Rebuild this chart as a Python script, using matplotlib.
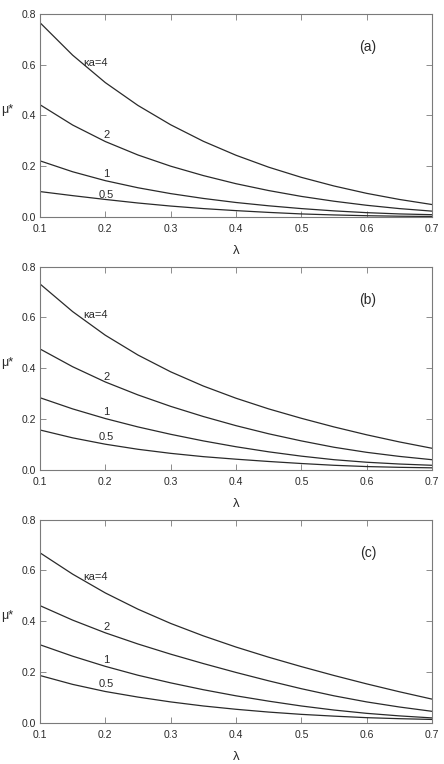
import numpy as np
import matplotlib
matplotlib.use('Agg')
from matplotlib import pyplot as plt
from matplotlib.ticker import FormatStrFormatter

plt.rcParams['font.family'] = ['Liberation Sans', 'DejaVu Sans']

lam = [0.1, 0.15, 0.2, 0.25, 0.3, 0.35, 0.4, 0.45, 0.5, 0.55, 0.6, 0.65, 0.7]
ka = ['4', '2', '1', '0.5']
panels = ['(a)', '(b)', '(c)']

# mu*, one list per ka (4, 2, 1, 0.5), per panel
mu_a = [
    [0.765, 0.637, 0.529, 0.439, 0.363, 0.298, 0.243, 0.196, 0.156, 0.122, 0.093, 0.069, 0.049],
    [0.442, 0.362, 0.297, 0.244, 0.200, 0.163, 0.131, 0.104, 0.081, 0.062, 0.046, 0.033, 0.023],
    [0.221, 0.178, 0.143, 0.115, 0.092, 0.073, 0.057, 0.044, 0.033, 0.024, 0.017, 0.012, 0.009],
    [0.100, 0.084, 0.069, 0.055, 0.043, 0.033, 0.025, 0.018, 0.012, 0.008, 0.005, 0.003, 0.002],
]
mu_b = [
    [0.732, 0.623, 0.530, 0.452, 0.386, 0.330, 0.282, 0.240, 0.203, 0.169, 0.138, 0.110, 0.085],
    [0.476, 0.406, 0.346, 0.295, 0.250, 0.210, 0.174, 0.142, 0.114, 0.089, 0.069, 0.053, 0.040],
    [0.284, 0.240, 0.202, 0.169, 0.140, 0.114, 0.091, 0.071, 0.054, 0.040, 0.030, 0.023, 0.018],
    [0.157, 0.126, 0.101, 0.081, 0.065, 0.052, 0.042, 0.033, 0.025, 0.018, 0.013, 0.010, 0.008],
]
mu_c = [
    [0.669, 0.585, 0.511, 0.447, 0.391, 0.342, 0.298, 0.258, 0.221, 0.186, 0.153, 0.122, 0.093],
    [0.461, 0.404, 0.354, 0.310, 0.270, 0.233, 0.198, 0.165, 0.134, 0.106, 0.082, 0.062, 0.045],
    [0.307, 0.262, 0.222, 0.187, 0.157, 0.130, 0.106, 0.085, 0.066, 0.050, 0.037, 0.027, 0.019],
    [0.186, 0.151, 0.123, 0.101, 0.082, 0.066, 0.053, 0.042, 0.033, 0.026, 0.020, 0.016, 0.013],
]

# curve label heights, per panel (4, 2, 1, 0.5)
lab_y = [
    [0.608, 0.323, 0.169, 0.087],
    [0.608, 0.366, 0.229, 0.128],
    [0.574, 0.375, 0.247, 0.153],
]
panel_y = [0.67, 0.667, 0.669]

fig = plt.figure(figsize=(4.44, 7.64), dpi=100)
bottoms = [0.716, 0.385, 0.054]
grey = '#7a7a7a'
ink = '#2a2a2a'

for k, mu in enumerate([mu_a, mu_b, mu_c]):
    ax = fig.add_axes([0.090, bottoms[k], 0.883, 0.266])
    for curve in mu:
        ax.plot(lam, curve, color=ink, lw=0.9)
    ax.set_xlim(0.1, 0.7)
    ax.set_ylim(0, 0.8)
    ax.set_xticks(np.arange(0.1, 0.71, 0.1))
    ax.set_yticks(np.arange(0, 0.81, 0.2))
    ax.xaxis.set_major_formatter(FormatStrFormatter('%.1f'))
    ax.yaxis.set_major_formatter(FormatStrFormatter('%.1f'))
    ax.tick_params(direction='in', top=True, right=True, length=4, width=0.6,
                   color=grey, labelsize=7.5, labelcolor=ink)
    ax.tick_params(axis='x', pad=5)
    ax.tick_params(axis='y', pad=3)
    for s in ax.spines.values():
        s.set_color(grey)
        s.set_linewidth(0.8)
    ax.text(0.167, lab_y[k][0], '\u03baa=4', fontsize=8, color=ink, va='center')
    ax.text(0.202, lab_y[k][1], ka[1], fontsize=8, color=ink, va='center', ha='center')
    ax.text(0.202, lab_y[k][2], ka[2], fontsize=8, color=ink, va='center', ha='center')
    ax.text(0.202, lab_y[k][3], ka[3], fontsize=8, color=ink, va='center', ha='center')
    ax.text(0.602, panel_y[k], panels[k], fontsize=10, color=ink, ha='center', va='center')
    ax.set_xlabel('\u03bb', fontsize=9.5, labelpad=8, color=ink)
    ax.set_ylabel('\u03bc*', fontsize=9, rotation=0, color=ink, va='center')
    ax.yaxis.set_label_coords(-0.083, 0.527)

fig.savefig('out.png', dpi=100)
